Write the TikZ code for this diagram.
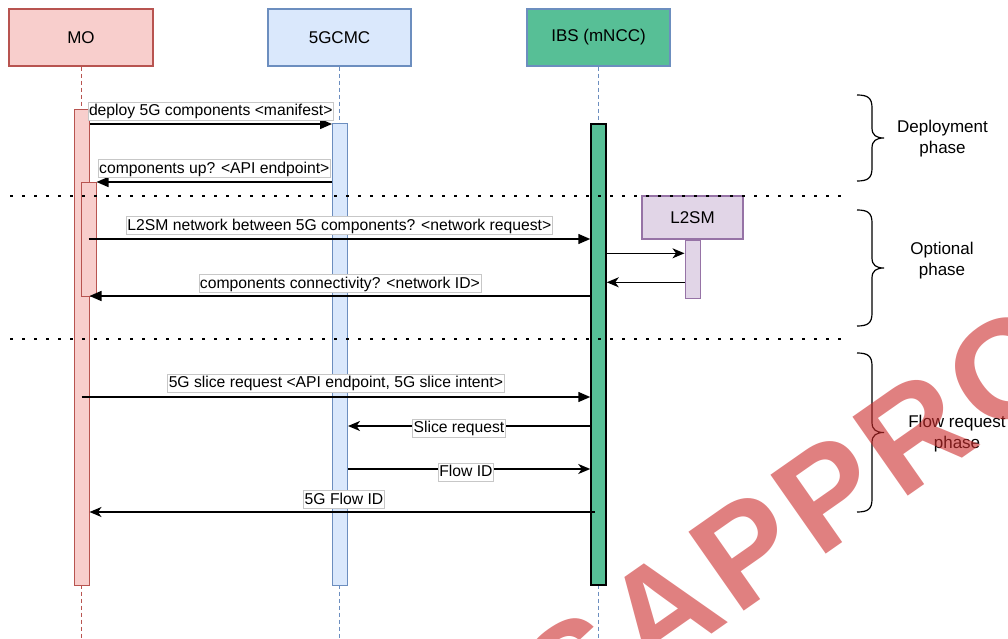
\documentclass[tikz,border=0pt]{standalone}
\usepackage{fontspec}
\setmainfont{Liberation Sans}
\usetikzlibrary{arrows.meta,calc}

\definecolor{moFill}{HTML}{F8CECC}
\definecolor{moLine}{HTML}{B85450}
\definecolor{cmFill}{HTML}{DAE8FC}
\definecolor{cmLine}{HTML}{6C8EBF}
\definecolor{ibsFill}{RGB}{87,191,150}
\definecolor{lsFill}{HTML}{E1D5E7}
\definecolor{lsLine}{HTML}{9673A6}
\definecolor{stampRed}{RGB}{203,43,43}

\begin{document}
\begin{tikzpicture}[x=1pt,y=-1pt,
  head/.style={draw, line width=1.2pt, minimum height=57pt, inner sep=0pt,
    font=\fontsize{17}{20}\selectfont},
  act/.style={draw, line width=1pt, minimum width=15pt, inner sep=0pt},
  life/.style={line width=1pt, dash pattern=on 4pt off 3pt},
  msg/.style={line width=1.5pt},
  blockhead/.style={-{Triangle[length=12pt,width=10pt]}},
  openhead/.style={-{Stealth[length=12pt,width=10pt,inset=3.5pt]}},
  lbl/.style={fill=white, draw=black!22, line width=0.6pt, inner xsep=1pt,
    inner ysep=1pt, text height=12.5pt, text depth=3.5pt,
    font=\fontsize{15.7}{18}\selectfont},
  phaseline/.style={line width=2.6pt, dash pattern=on 2.6pt off 9.4pt},
  brace/.style={line width=1.2pt},
  phase/.style={align=center, font=\fontsize{17}{21}\selectfont},
  stamp/.style={text=stampRed, text opacity=0.6, inner sep=0pt,
    font=\bfseries\fontsize{140}{150}\selectfont, anchor=base west, rotate=35}
]
\useasboundingbox (0,0) rectangle (1008,639);
\coordinate (floor) at (0,639);

% participants
\node[head, fill=moFill, draw=moLine, minimum width=144pt] (mo) at (81,37.5) {MO};
\node[head, fill=cmFill, draw=cmLine, minimum width=143pt] (cm) at (339.5,37.5) {5GCMC};
\node[head, fill=ibsFill, draw=cmLine, minimum width=143pt] (ibs) at (598.5,37.5) {IBS (mNCC)};

% lifelines
\draw[life, draw=moLine] (mo.south) -- (mo.south |- floor);
\draw[life, draw=cmLine] (cm.south) -- (cm.south |- floor);
\draw[life, draw=cmLine] (ibs.south) -- (ibs.south |- floor);

% activation bars
\node[act, fill=moFill, draw=moLine, minimum height=475pt] (moA) at (81.5,347.5) {};
\node[act, fill=moFill, draw=moLine, minimum height=114pt] (moB) at (88.5,239) {};
\node[act, fill=cmFill, draw=cmLine, minimum height=461pt] (cmA) at (340,354.5) {};
\node[act, fill=ibsFill, draw=black, line width=1.5pt, minimum height=461pt] (ibA) at (598.5,354.5) {};

% L2SM participant
\node[head, fill=lsFill, draw=lsLine, minimum width=101pt, minimum height=43pt] (ls) at (692.5,217.5) {L2SM};
\node[act, fill=lsFill, draw=lsLine, minimum height=58pt, anchor=north] (lsA) at (ls.south) {};

% phase separators
\coordinate (sepA1) at (10,196);  \coordinate (sepA2) at (842,196);
\coordinate (sepB1) at (10,339);  \coordinate (sepB2) at (842,339);
\draw[phaseline] (sepA1) -- (sepA2);
\draw[phaseline] (sepB1) -- (sepB2);

% message heights
\coordinate (y1) at (0,124);
\coordinate (y2) at (0,182);
\coordinate (y3) at (0,239);
\coordinate (y4) at (0,296);
\coordinate (y5) at (0,397);
\coordinate (y6) at (0,426);
\coordinate (y7) at (0,469);
\coordinate (y8) at (0,512);
\coordinate (yl1) at (0,253.3);
\coordinate (yl2) at (0,282.3);

% messages
\draw[msg, blockhead] (moA.east |- y1) -- node[lbl, above=3.3pt] {deploy 5G components <manifest>} (cmA.west |- y1);
\draw[msg, blockhead] (cmA.west |- y2) -- node[lbl, above=4pt] {components up? <API endpoint>} (moB.east |- y2);
\draw[msg, blockhead] (moB |- y3) -- node[lbl, above=4pt] {L2SM network between 5G components? <network request>} (ibA.west |- y3);
\draw[msg, openhead] (ibA.east |- yl1) -- (lsA.west |- yl1);
\draw[msg, openhead] (lsA.west |- yl2) -- (ibA.east |- yl2);
\draw[msg, blockhead] (ibA.west |- y4) -- node[lbl, above=3pt] {components connectivity? <network ID>} (moA.east |- y4);
\draw[msg, blockhead] (moA |- y5) -- node[lbl, above=4.5pt] {5G slice request <API endpoint, 5G slice intent>} (ibA.west |- y5);
\draw[msg, openhead] (ibA.west |- y6) -- node[lbl, pos=0.542, yshift=-2pt] {Slice request} (cmA.east |- y6);
\draw[msg, openhead] (cmA.east |- y7) -- node[lbl, pos=0.487, yshift=-3pt] {Flow ID} (ibA.west |- y7);
\draw[msg, openhead, shorten <=3.5pt] (ibA |- y8) -- node[lbl, above=3pt] {5G Flow ID} (moA.east |- y8);

% phase braces
\foreach \t/\b in {95/181, 210/326, 353/512}{
  \pgfmathsetmacro\m{(\t+\b)/2}
  \draw[brace] (857,\t) .. controls (868,\t) and (872,\t+3) .. (872,\t+13)
    -- (872,\m-10) .. controls (872,\m-3) and (876,\m) .. (884,\m)
    .. controls (876,\m) and (872,\m+3) .. (872,\m+10)
    -- (872,\b-13) .. controls (872,\b-3) and (868,\b) .. (857,\b);
}
\node[phase] (phDeploy) at (942.5,138.5) {Deployment\\phase};
\node[phase] (phOptional) at (942,261) {Optional\\phase};
\node[phase] (phFlow) at (957,433.5) {Flow request\\phase};

% stamp lettering along a 35 degree baseline
\coordinate (stampBase) at (648,679);
\begin{scope}
  \clip (0,0) rectangle (1008,639);
  \foreach \ch/\d in {S/-100, A/0, P/108.3, P/208.4, R/308.4, O/416.7}{
    \node[stamp] at ($(stampBase)+(0.819*\d,-0.574*\d)$) {\ch};
  }
\end{scope}
\end{tikzpicture}
\end{document}
